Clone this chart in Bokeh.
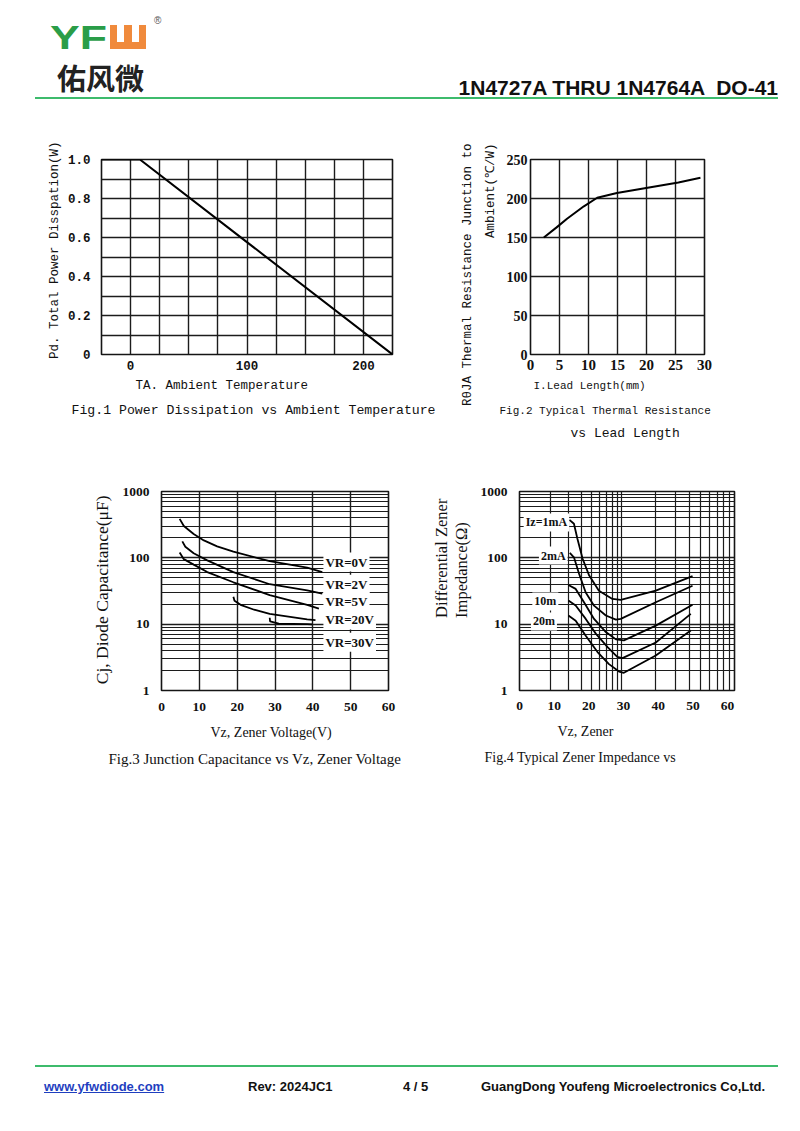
import math
from bokeh.plotting import figure
from bokeh.models import Range1d, FixedTicker, Label, Div, Title
from bokeh.layouts import column, row
from bokeh.embed import file_html
from bokeh.resources import INLINE

# ---------------- data ----------------
# Fig.1  Power dissipation vs ambient temperature
fig1_temp = [-25, 8, 225]
fig1_power = [1.0, 1.0, 0.0]
fig1_xticks = [0, 100, 200]
fig1_yticks = [0, 0.2, 0.4, 0.6, 0.8, 1.0]
fig1_ylabels = ["0", "0.2", "0.4", "0.6", "0.8", "1.0"]

# Fig.2  Thermal resistance vs lead length
fig2_length = [2.3, 4.5, 6.3, 9.2, 11.5, 14.9, 20.7, 25.5, 29.3]
fig2_rth = [150, 163, 174, 190, 201, 207, 214.5, 220.5, 226.5]
fig2_xticks = [0, 5, 10, 15, 20, 25, 30]
fig2_yticks = [0, 50, 100, 150, 200, 250]

# Fig.3  Junction capacitance vs Vz
fig3_names = ["VR=0V", "VR=2V", "VR=5V", "VR=20V", "VR=30V"]
vz_vr0 = [4.8, 5.9, 8.5, 11.2, 14.7, 19, 28.6, 38.5, 42.5]
cj_vr0 = [387, 302, 229, 183, 149, 124, 89, 71, 61]
vz_vr2 = [5.5, 6.3, 8.5, 12.1, 19, 28.6, 38.5, 42.5]
cj_vr2 = [177, 147, 117, 91.6, 61, 40, 32.4, 28.8]
vz_vr5 = [4.8, 5.9, 8.5, 12.1, 19, 28.6, 38.5, 41.6]
cj_vr5 = [120, 95.5, 79, 61, 42.8, 27.4, 19.6, 17.1]
vz_vr20 = [19, 19.3, 20.9, 24.5, 28.6, 38.5, 40.7]
cj_vr20 = [25.9, 22.5, 19.6, 16.5, 14.3, 11.8, 11.5]
vz_vr30 = [28.6, 28.7, 31, 38.5, 39.8]
cj_vr30 = [12.5, 11.0, 10.2, 10.0, 9.9]
fig3_label_y = [86.5, 40, 21.9, 11.6, 5.35]
fig3_xticks = [0, 10, 20, 30, 40, 50, 60]
log_ticks = [1, 10, 100, 1000]
log_labels = ["1", "10", "100", "1000"]

# Fig.4  Zener impedance vs Vz
fig4_names = ["Iz=1mA", "2mA", "10m", "20m"]
vz_1ma = [14.4, 15.7, 16.7, 18.2, 20.1, 22.9, 26.8, 29.2, 39.3, 49.9]
zz_1ma = [374, 326, 194, 97, 54, 32, 24, 23.3, 32, 53]
vz_2ma = [14.5, 15.7, 17.2, 19.1, 21.5, 24.9, 27.8, 29.2, 39.3, 49.9]
zz_2ma = [119, 102, 57, 30, 19, 13.5, 11.7, 12.0, 21.4, 38]
vz_5ma = [14.1, 16.2, 18.6, 21.5, 24.9, 27.8, 30.1, 39.3, 49.9]
zz_5ma = [39, 34, 21.4, 12, 7.6, 5.9, 5.7, 9.5, 19.6]
vz_10ma = [14.1, 16.2, 19.1, 22.0, 25.4, 28.2, 29.7, 39.3, 49.4]
zz_10ma = [22.7, 19.1, 12, 7.2, 4.5, 3.2, 3.07, 5.3, 14.3]
vz_20ma = [14.1, 16.2, 19.1, 22.5, 25.8, 28.7, 30.1, 39.3, 49.4]
zz_20ma = [13.5, 11.3, 6.7, 3.8, 2.5, 1.93, 1.85, 3.37, 8.0]
fig4_label_x = [1.2, 5.6, 3.7, 3.3]
fig4_label_y = [341, 108, 22, 11]
fig4_xticks = [0, 10, 20, 30, 40, 50, 60]

# ---------------- styling helpers ----------------
TXT = "#111111"
GRID = "#1c1c1c"
MONO = "Liberation Mono"
SERIF = "Liberation Serif"


def make_fig(w, h, xr, yr, borders, ylog=False):
    bl, br, bt, bb = borders
    p = figure(width=w, height=h, x_range=Range1d(*xr), y_range=Range1d(*yr),
               y_axis_type="log" if ylog else "linear",
               output_backend="svg", toolbar_location=None,
               min_border_left=bl, min_border_right=br,
               min_border_top=bt, min_border_bottom=bb,
               background_fill_color="white", border_fill_color="white",
               outline_line_color="#151515", outline_line_width=1.6)
    p.margin = (0, 0, 0, 0)
    for ax in p.axis:
        ax.axis_line_color = None
        ax.major_tick_line_color = None
        ax.minor_tick_line_color = None
        ax.major_tick_out = 0
        ax.major_tick_in = 0
        ax.minor_tick_out = 0
        ax.minor_tick_in = 0
        ax.major_label_text_color = TXT
    p.xgrid.grid_line_color = GRID
    p.ygrid.grid_line_color = GRID
    p.xgrid.grid_line_width = 1.4
    p.ygrid.grid_line_width = 1.4
    return p


def style_ticks(ax, font, size, bold, standoff):
    ax.major_label_text_font = font
    ax.major_label_text_font_size = f"{size}px"
    ax.major_label_text_font_style = "bold" if bold else "normal"
    ax.major_label_standoff = standoff


def side_text(p, text, place, size, font, align="left", offset=0, standoff=0,
              bold=False, line_height=1.0):
    # titles stacked outward from the frame (axis titles and figure captions)
    p.add_layout(Title(text=text, align=align, offset=offset, standoff=standoff,
                       text_font=font, text_font_size=f"{size}px", text_color=TXT,
                       text_line_height=line_height,
                       text_font_style="bold" if bold else "normal"), place)


def tag(p, text, x, y, size, font):
    p.add_layout(Label(x=x, y=y, text=text, text_font=font, text_font_size=f"{size}px",
                       text_align="left", text_baseline="middle", text_color=TXT,
                       text_font_style="bold", background_fill_color="white",
                       background_fill_alpha=1.0, padding=2))


# ---------------- Fig.1 ----------------
p1 = make_fig(442, 360, (-25, 225), (0, 1.0), (93, 58, 50, 114))
p1.xaxis.ticker = FixedTicker(ticks=fig1_xticks)
p1.yaxis.ticker = FixedTicker(ticks=fig1_yticks)
p1.yaxis.major_label_overrides = dict(zip(fig1_yticks, fig1_ylabels))
p1.xgrid.ticker = FixedTicker(ticks=list(range(-25, 226, 25)))
p1.ygrid.ticker = FixedTicker(ticks=[i / 10 for i in range(11)])
style_ticks(p1.xaxis[0], MONO, 12.5, True, 6)
style_ticks(p1.yaxis[0], MONO, 12.5, True, 11)
p1.line(fig1_temp, fig1_power, line_color="black", line_width=2)
side_text(p1, "Pd. Total Power Disspation(W)", "left", 12.5, MONO, "right", -18, 6)
side_text(p1, "TA. Ambient Temperature", "below", 12.5, MONO, "left", 34, 9)
side_text(p1, "Fig.1 Power Dissipation vs Ambient Temperature", "below", 13.2, MONO, "left", -30, 7)

# ---------------- Fig.2 ----------------
p2 = make_fig(342, 360, (0, 30), (0, 250), (80, 88, 51, 114))
p2.xaxis.ticker = FixedTicker(ticks=fig2_xticks)
p2.yaxis.ticker = FixedTicker(ticks=fig2_yticks)
style_ticks(p2.xaxis[0], SERIF, 15, True, 5)
style_ticks(p2.yaxis[0], SERIF, 14, True, 3)
p2.line(fig2_length, fig2_rth, line_color="black", line_width=2)
side_text(p2, "Ambient(\u2103/W)", "left", 12.5, MONO, "right", -16, 11)
side_text(p2, "R\u03b8JA Thermal Resistance Junction to", "left", 12.5, MONO, "right", -16, 3)
side_text(p2, "I.Lead Length(mm)", "below", 11, MONO, "left", 3, 10)
side_text(p2, "Fig.2 Typical Thermal Resistance", "below", 11, MONO, "left", -31, 13)
side_text(p2, "vs Lead Length", "below", 13, MONO, "left", 40, 0)

# ---------------- Fig.3 ----------------
p3 = make_fig(400, 320, (0, 60), (1, 1000), (153, 20, 16, 98), ylog=True)
p3.xaxis.ticker = FixedTicker(ticks=fig3_xticks)
minor_log = [m * 10 ** e for e in range(3) for m in range(2, 10)]
p3.yaxis.ticker = FixedTicker(ticks=log_ticks, minor_ticks=minor_log)
p3.yaxis.major_label_overrides = dict(zip(log_ticks, log_labels))
p3.ygrid.minor_grid_line_color = GRID
p3.ygrid.minor_grid_line_width = 1.2
style_ticks(p3.xaxis[0], SERIF, 13.5, True, 12)
style_ticks(p3.yaxis[0], SERIF, 13.5, True, 12)
for xs, ys in [(vz_vr0, cj_vr0), (vz_vr2, cj_vr2), (vz_vr5, cj_vr5),
               (vz_vr20, cj_vr20), (vz_vr30, cj_vr30)]:
    p3.line(xs, ys, line_color="black", line_width=1.8)
for name, ly in zip(fig3_names, fig3_label_y):
    tag(p3, name, 42.8, ly, 13, SERIF)
side_text(p3, "Cj, Diode Capacitance(\u03bcF)", "left", 17.5, SERIF, "right", 4, 16)
side_text(p3, "Vz, Zener Voltage(V)", "below", 14, SERIF, "left", 49, 18)
side_text(p3, "Fig.3 Junction Capacitance vs Vz, Zener Voltage", "below", 15, SERIF, "left", -53, 0)

# ---------------- Fig.4 ----------------
p4 = make_fig(384, 320, (0, 62), (1, 1000), (111, 58, 23, 98), ylog=True)
p4.xaxis.ticker = FixedTicker(ticks=fig4_xticks)
dec1, dec2 = 29.55, 32.45
grid4 = [dec1 * math.log10(k) for k in range(1, 11)] + \
        [dec1 + dec2 * math.log10(k) for k in range(2, 11)]
p4.xgrid.ticker = FixedTicker(ticks=grid4)
p4.xgrid.grid_line_width = 1.2
p4.yaxis.ticker = FixedTicker(ticks=log_ticks, minor_ticks=minor_log)
p4.yaxis.major_label_overrides = dict(zip(log_ticks, log_labels))
p4.ygrid.minor_grid_line_color = GRID
p4.ygrid.minor_grid_line_width = 1.2
style_ticks(p4.xaxis[0], SERIF, 13.5, True, 11)
style_ticks(p4.yaxis[0], SERIF, 13.5, True, 12)
for xs, ys in [(vz_1ma, zz_1ma), (vz_2ma, zz_2ma), (vz_5ma, zz_5ma),
               (vz_10ma, zz_10ma), (vz_20ma, zz_20ma)]:
    p4.line(xs, ys, line_color="black", line_width=1.8)
for name, lx, ly in zip(fig4_names, fig4_label_x, fig4_label_y):
    tag(p4, name, lx, ly, 12, SERIF)
side_text(p4, "Differential  Zener\nImpedance(\u03a9)", "left", 16.5, SERIF, "right", 3, 12,
          line_height=1.1)
side_text(p4, "Vz, Zener", "below", 14, SERIF, "left", 38, 18)
side_text(p4, "Fig.4 Typical Zener Impedance vs", "below", 14, SERIF, "left", -35, 0)

# ---------------- header / footer ----------------
GREEN_LINE = "#3dbb6c"
header_html = f"""
<div style="position:relative;width:784px;height:100px;font-family:'Liberation Sans',Arial,sans-serif;">
  <div style="position:absolute;left:42px;top:13px;font-size:33px;font-weight:bold;color:#2a9d48;line-height:1;transform:scaleX(1.35);transform-origin:left top;">YF</div>
  <div style="position:absolute;left:102px;top:17px;width:36px;height:24px;background:#f08a3c;">
    <div style="position:absolute;left:7px;top:0px;width:7px;height:17px;background:white;"></div>
    <div style="position:absolute;left:22px;top:0px;width:7px;height:17px;background:white;"></div>
  </div>
  <div style="position:absolute;left:146px;top:8px;font-size:10px;color:#555;line-height:1;">&reg;</div>
  <div style="position:absolute;left:49px;top:55px;font-size:29px;font-family:'Noto Sans CJK SC';font-weight:bold;line-height:1;color:#222;">佑风微</div>
  <div style="position:absolute;right:14px;top:69px;font-size:21px;font-weight:bold;line-height:1;color:#111;white-space:pre;">1N4727A THRU 1N4764A  DO-41</div>
  <div style="position:absolute;left:27px;top:89px;width:743px;height:2px;background:{GREEN_LINE};"></div>
</div>
"""
footer_html = f"""
<div style="position:relative;width:784px;height:60px;font-family:'Liberation Sans',Arial,sans-serif;font-weight:bold;font-size:13px;line-height:1;color:#111;">
  <div style="position:absolute;left:27px;top:15px;width:743px;height:2px;background:{GREEN_LINE};"></div>
  <div style="position:absolute;left:36px;top:30px;color:#1f3fbf;text-decoration:underline;white-space:pre;">www.yfwdiode.com</div>
  <div style="position:absolute;left:240px;top:30px;white-space:pre;">Rev: 2024JC1</div>
  <div style="position:absolute;left:395px;top:30px;white-space:pre;">4 / 5</div>
  <div style="position:absolute;left:473px;top:30px;white-space:pre;">GuangDong Youfeng Microelectronics Co,Ltd.</div>
</div>
"""
header = Div(text=header_html, width=784, height=100, margin=(0, 0, 0, 0))
spacer = Div(text="", width=784, height=262, margin=(0, 0, 0, 0))
footer = Div(text=footer_html, width=784, height=60, margin=(0, 0, 0, 0))

layout = column(header,
                row(p1, p2, spacing=0),
                row(p3, p4, spacing=0),
                spacer, footer, spacing=0, margin=(8, 0, 0, 8))

open("out.html", "w").write(file_html(layout, INLINE))
